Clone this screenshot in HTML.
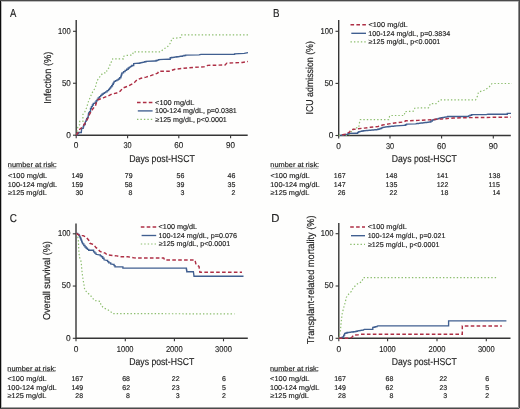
<!DOCTYPE html><html><head><meta charset="utf-8"><style>
html,body{margin:0;padding:0;background:#fefefd;}svg{display:block;}
text{font-family:"Liberation Sans", sans-serif;fill:#232323;stroke:#232323;stroke-width:0.16px;text-rendering:geometricPrecision;}
.t{filter:grayscale(1);} text.k{stroke-width:0.14px;}
</style></head><body>
<svg width="520" height="409" viewBox="0 0 520 409">
<rect x="0" y="0" width="520" height="409" fill="#fefefd"/>
<path d="M76.2,20 V135.2 H247.7" stroke="#363636" stroke-width="1.4" fill="none"/>
<path d="M73.0,135.2 H76.2" stroke="#363636" stroke-width="1.1"/>
<path d="M73.0,83.25 H76.2" stroke="#363636" stroke-width="1.1"/>
<path d="M73.0,31.3 H76.2" stroke="#363636" stroke-width="1.1"/>
<path d="M76.2,135.2 V138.2" stroke="#363636" stroke-width="1.1"/>
<path d="M127.6,135.2 V138.2" stroke="#363636" stroke-width="1.1"/>
<path d="M178.8,135.2 V138.2" stroke="#363636" stroke-width="1.1"/>
<path d="M230.6,135.2 V138.2" stroke="#363636" stroke-width="1.1"/>
<polyline points="76.30,135.00 77.50,129.70 77.80,126.50 79.70,124.60 79.70,121.40 82.90,121.40 82.90,114.40 84.50,112.50 86.60,107.70 88.40,101.60 91.50,94.20 93.30,90.60 95.20,88.10 97.00,80.80 98.80,78.30 100.80,75.40 103.00,73.00 106.50,72.70 106.90,70.00 108.80,68.00 109.60,66.20 110.40,63.00 112.30,60.80 112.70,58.80 123.50,58.80 123.80,56.20 126.90,55.40 132.50,55.00 133.40,51.80 160.60,51.80 163.50,49.00 167.30,47.10 170.20,43.30 172.10,38.50 180.80,37.50 181.70,34.80 248.00,34.80" stroke="#8cbe6e" stroke-width="1.2" stroke-dasharray="1.4 2.05" fill="none"/>
<polyline points="76.30,134.80 77.45,134.80 77.45,133.65 78.60,133.65 78.60,132.50 81.30,132.50 81.70,128.30 83.20,128.30 83.20,126.80 83.60,126.80 83.60,125.65 84.00,125.65 84.00,124.50 85.20,124.50 85.20,123.70 85.50,121.40 86.10,121.40 86.10,120.05 86.70,120.05 86.70,118.70 87.45,118.70 87.45,117.35 88.20,117.35 88.20,116.00 88.60,112.90 89.55,112.90 89.55,111.75 90.50,111.75 90.50,110.60 90.50,108.30 91.43,108.30 91.43,106.67 92.37,106.67 92.37,105.03 93.30,105.03 93.30,103.40 95.20,103.40 95.20,102.20 96.20,102.20 96.20,100.77 97.20,100.77 97.20,99.33 98.20,99.33 98.20,97.90 99.43,97.90 99.43,96.67 100.67,96.67 100.67,95.43 101.90,95.43 101.90,94.20 103.13,94.20 103.13,93.40 104.37,93.40 104.37,92.60 105.60,92.60 105.60,91.80 107.10,91.80 107.10,90.55 108.60,90.55 108.60,89.30 109.63,89.30 109.63,88.10 110.67,88.10 110.67,86.90 111.70,86.90 111.70,85.70 112.50,85.70 112.50,84.27 113.30,84.27 113.30,82.83 114.10,82.83 114.10,81.40 115.53,81.40 115.53,80.60 116.97,80.60 116.97,79.80 118.40,79.80 118.40,79.00 119.60,79.00 119.60,77.75 120.80,77.75 120.80,76.50 121.20,76.50 121.20,75.27 121.60,75.27 121.60,74.03 122.00,74.03 122.00,72.80 123.55,72.80 123.55,71.60 125.10,71.60 125.10,70.40 126.65,70.40 126.65,69.20 128.20,69.20 128.20,68.00 129.40,68.00 129.40,67.17 130.60,67.17 130.60,66.33 131.80,66.33 131.80,65.50 133.70,65.50 133.70,63.70 138.60,63.20 139.80,63.20 139.80,62.93 141.00,62.93 141.00,62.67 142.20,62.67 142.20,62.40 143.47,62.40 143.47,62.07 144.73,62.07 144.73,61.73 146.00,61.73 146.00,61.40 154.80,61.00 156.10,61.00 156.10,60.53 157.40,60.53 157.40,60.07 158.70,60.07 158.70,59.60 168.30,59.20 170.20,59.20 170.20,57.70 171.52,57.70 171.52,57.51 172.85,57.51 172.85,57.33 174.18,57.33 174.18,57.14 175.50,57.14 175.50,56.95 176.82,56.95 176.82,56.76 178.15,56.76 178.15,56.58 179.48,56.58 179.48,56.39 180.80,56.39 180.80,56.20 182.40,56.20 182.40,55.87 184.00,55.87 184.00,55.53 185.60,55.53 185.60,55.20 199.00,54.80 201.00,54.40 232.70,54.40 234.60,54.40 234.60,53.80 244.20,53.30 248.00,52.70" stroke="#405f90" stroke-width="1.35" fill="none"/>
<polyline points="76.30,135.00 78.00,132.50 80.00,129.00 82.50,127.00 84.50,124.00 86.00,121.50 88.00,118.00 89.50,114.50 91.50,110.50 93.50,108.00 95.20,106.50 97.00,100.80 98.20,99.70 103.10,97.90 108.00,96.00 111.70,94.20 116.60,93.00 120.20,91.20 122.70,88.10 127.60,86.30 132.50,83.80 134.90,82.00 137.30,79.60 141.00,78.30 146.00,77.10 150.00,76.00 157.70,73.10 158.70,71.20 169.20,71.20 175.00,69.20 183.70,68.30 194.20,67.30 203.80,66.90 207.70,65.40 225.00,65.00 226.90,63.10 242.30,62.50 248.00,61.50" stroke="#ae2f45" stroke-width="1.45" stroke-dasharray="3.6 2.3" fill="none"/>
<path d="M137,102.4 H152.6" stroke="#ae2f45" stroke-width="1.45" stroke-dasharray="3.6 2.3" fill="none"/>
<path d="M137.8,110.9 H152.6" stroke="#405f90" stroke-width="1.35" fill="none"/>
<path d="M137,119.4 H152.6" stroke="#8cbe6e" stroke-width="1.2" stroke-dasharray="1.4 2.05" fill="none"/>
<path d="M8.3,167.95 H56.2" stroke="#9a9a9a" stroke-width="0.9"/>
<path d="M338.7,20 V135.5 H510.8" stroke="#363636" stroke-width="1.4" fill="none"/>
<path d="M335.5,135.5 H338.7" stroke="#363636" stroke-width="1.1"/>
<path d="M335.5,83.4 H338.7" stroke="#363636" stroke-width="1.1"/>
<path d="M335.5,31.3 H338.7" stroke="#363636" stroke-width="1.1"/>
<path d="M338.7,135.5 V138.5" stroke="#363636" stroke-width="1.1"/>
<path d="M390.0,135.5 V138.5" stroke="#363636" stroke-width="1.1"/>
<path d="M441.6,135.5 V138.5" stroke="#363636" stroke-width="1.1"/>
<path d="M493.3,135.5 V138.5" stroke="#363636" stroke-width="1.1"/>
<polyline points="338.70,135.30 348.80,135.30 351.00,132.00 355.00,128.00 358.80,127.30 359.50,122.70 360.30,119.60 388.80,119.60 389.50,116.50 390.30,115.50 404.20,115.50 405.00,111.60 413.40,111.20 415.00,108.00 428.50,107.90 430.40,103.70 436.20,103.70 440.00,99.80 475.60,99.80 477.50,96.00 478.50,92.10 484.20,90.20 489.00,87.30 492.00,83.50 511.80,83.50" stroke="#8cbe6e" stroke-width="1.2" stroke-dasharray="1.4 2.05" fill="none"/>
<polyline points="340.50,135.30 342.60,135.00 347.20,134.40 348.00,134.40 348.00,133.40 356.50,133.20 357.65,133.20 357.65,132.40 358.80,132.40 358.80,131.60 360.33,131.60 360.33,131.30 361.87,131.30 361.87,131.00 363.40,131.00 363.40,130.70 364.86,130.70 364.86,130.58 366.31,130.58 366.31,130.46 367.77,130.46 367.77,130.33 369.22,130.33 369.22,130.21 370.68,130.21 370.68,130.09 372.13,130.09 372.13,129.97 373.59,129.97 373.59,129.84 375.04,129.84 375.04,129.72 376.50,129.72 376.50,129.60 377.77,129.60 377.77,129.23 379.03,129.23 379.03,128.87 380.30,128.87 380.30,128.50 381.45,128.50 381.45,127.90 382.60,127.90 382.60,127.30 384.15,127.30 384.15,127.10 385.70,127.10 385.70,126.90 387.25,126.90 387.25,126.70 388.80,126.70 388.80,126.50 390.34,126.50 390.34,126.36 391.88,126.36 391.88,126.22 393.42,126.22 393.42,126.08 394.96,126.08 394.96,125.94 396.50,125.94 396.50,125.80 404.20,125.30 405.35,125.30 405.35,124.75 406.50,124.75 406.50,124.20 415.70,123.90 417.00,123.50 418.38,123.50 418.38,123.33 419.76,123.33 419.76,123.17 421.13,123.17 421.13,123.00 422.51,123.00 422.51,122.83 423.89,122.83 423.89,122.67 425.27,122.67 425.27,122.50 426.64,122.50 426.64,122.33 428.02,122.33 428.02,122.17 429.40,122.17 429.40,122.00 430.85,122.00 430.85,121.00 432.30,121.00 432.30,120.00 433.84,120.00 433.84,119.60 435.38,119.60 435.38,119.20 436.92,119.20 436.92,118.80 438.46,118.80 438.46,118.40 440.00,118.40 440.00,118.00 441.54,118.00 441.54,117.70 443.08,117.70 443.08,117.40 444.62,117.40 444.62,117.10 446.16,117.10 446.16,116.80 447.70,116.80 447.70,116.50 467.00,116.50 468.57,116.50 468.57,115.87 470.13,115.87 470.13,115.23 471.70,115.23 471.70,114.60 486.20,114.60 488.00,114.20 505.40,114.20 507.30,114.20 507.30,113.30 511.00,113.30" stroke="#405f90" stroke-width="1.35" fill="none"/>
<polyline points="342.20,135.00 345.00,134.20 347.00,133.20 349.50,132.20 350.50,130.20 352.50,129.50 358.00,128.80 364.20,128.10 370.30,127.30 378.00,126.50 382.60,125.00 388.80,123.90 396.50,122.70 404.20,121.90 405.70,120.80 418.00,120.40 432.30,119.60 442.00,119.00 453.50,118.00 465.00,117.70 511.00,117.10" stroke="#ae2f45" stroke-width="1.45" stroke-dasharray="3.6 2.3" fill="none"/>
<path d="M350.5,24.8 H366" stroke="#ae2f45" stroke-width="1.45" stroke-dasharray="3.6 2.3" fill="none"/>
<path d="M351.3,33.3 H366" stroke="#405f90" stroke-width="1.35" fill="none"/>
<path d="M350.5,41.8 H366" stroke="#8cbe6e" stroke-width="1.2" stroke-dasharray="1.4 2.05" fill="none"/>
<path d="M270.8,168.15 H318.5" stroke="#9a9a9a" stroke-width="0.9"/>
<path d="M76.0,223.5 V338.3 H247.8" stroke="#363636" stroke-width="1.4" fill="none"/>
<path d="M72.8,338.3 H76.0" stroke="#363636" stroke-width="1.1"/>
<path d="M72.8,286.05 H76.0" stroke="#363636" stroke-width="1.1"/>
<path d="M72.8,233.8 H76.0" stroke="#363636" stroke-width="1.1"/>
<path d="M76.0,338.3 V341.3" stroke="#363636" stroke-width="1.1"/>
<path d="M125.3,338.3 V341.3" stroke="#363636" stroke-width="1.1"/>
<path d="M174.4,338.3 V341.3" stroke="#363636" stroke-width="1.1"/>
<path d="M223.5,338.3 V341.3" stroke="#363636" stroke-width="1.1"/>
<polyline points="76.40,233.50 77.70,236.60 78.30,240.20 78.60,245.10 78.90,252.40 79.50,257.30 80.70,259.80 81.30,263.50 81.80,269.60 82.70,277.30 83.70,283.10 84.70,289.80 87.50,292.70 91.40,296.50 94.30,300.40 100.00,301.30 101.00,305.20 103.90,308.10 107.70,309.60 110.60,311.50 112.50,313.60 234.50,313.90" stroke="#8cbe6e" stroke-width="1.2" stroke-dasharray="1.4 2.05" fill="none"/>
<polyline points="76.40,233.50 77.65,233.50 77.65,234.40 78.90,234.40 78.90,235.30 79.50,235.30 79.50,236.53 80.10,236.53 80.10,237.77 80.70,237.77 80.70,239.00 81.17,239.00 81.17,240.22 81.65,240.22 81.65,241.45 82.12,241.45 82.12,242.68 82.60,242.68 82.60,243.90 83.80,243.90 83.80,245.45 85.00,245.45 85.00,247.00 86.20,247.00 86.20,248.20 87.40,248.20 87.40,249.40 88.70,249.40 88.70,250.20 91.70,250.20 93.60,250.20 93.60,251.80 94.80,251.80 94.80,253.05 96.00,253.05 96.00,254.30 99.10,254.90 100.30,254.90 100.30,255.80 101.50,255.80 101.50,256.70 102.75,256.70 102.75,258.25 104.00,258.25 104.00,259.80 106.40,260.40 107.60,260.40 107.60,261.60 108.80,261.60 108.80,262.80 110.70,262.80 110.70,264.00 113.10,264.40 114.05,264.40 114.05,265.65 115.00,265.65 115.00,266.90 121.70,266.90 122.90,266.90 122.90,268.10 186.20,268.10 186.40,268.10 186.40,269.30 186.60,269.30 186.60,270.50 186.80,270.50 186.80,271.70 193.40,271.70 194.00,276.20 243.50,276.20" stroke="#405f90" stroke-width="1.35" fill="none"/>
<polyline points="76.40,233.50 80.10,235.60 83.20,235.60 86.20,237.20 88.70,240.20 89.90,243.30 93.60,244.50 96.00,247.60 97.80,248.80 99.70,251.20 102.10,252.40 105.20,253.10 107.00,254.90 116.80,255.90 120.50,256.70 127.80,256.70 133.90,257.90 163.70,258.00 164.70,260.00 195.00,260.00 196.00,264.50 199.00,266.40 199.90,272.30 242.00,272.30" stroke="#ae2f45" stroke-width="1.45" stroke-dasharray="3.6 2.3" fill="none"/>
<path d="M140.8,227.0 H156.2" stroke="#ae2f45" stroke-width="1.45" stroke-dasharray="3.6 2.3" fill="none"/>
<path d="M141.60000000000002,235.5 H156.2" stroke="#405f90" stroke-width="1.35" fill="none"/>
<path d="M140.8,244.0 H156.2" stroke="#8cbe6e" stroke-width="1.2" stroke-dasharray="1.4 2.05" fill="none"/>
<path d="M7.8,371.55 H55.5" stroke="#9a9a9a" stroke-width="0.9"/>
<path d="M338.8,223 V338.3 H510.5" stroke="#363636" stroke-width="1.4" fill="none"/>
<path d="M335.6,338.3 H338.8" stroke="#363636" stroke-width="1.1"/>
<path d="M335.6,286.0 H338.8" stroke="#363636" stroke-width="1.1"/>
<path d="M335.6,233.7 H338.8" stroke="#363636" stroke-width="1.1"/>
<path d="M338.8,338.3 V341.3" stroke="#363636" stroke-width="1.1"/>
<path d="M387.6,338.3 V341.3" stroke="#363636" stroke-width="1.1"/>
<path d="M437.0,338.3 V341.3" stroke="#363636" stroke-width="1.1"/>
<path d="M486.3,338.3 V341.3" stroke="#363636" stroke-width="1.1"/>
<polyline points="338.80,338.30 340.30,331.60 341.10,323.10 342.00,314.50 343.70,307.70 345.40,301.70 346.30,297.40 348.80,294.00 351.40,291.40 353.10,288.00 356.50,284.60 359.10,282.80 361.70,282.00 363.40,277.60 497.60,277.60" stroke="#8cbe6e" stroke-width="1.2" stroke-dasharray="1.4 2.05" fill="none"/>
<polyline points="338.80,338.30 340.13,338.30 340.13,337.80 341.47,337.80 341.47,337.30 342.80,337.30 342.80,336.80 343.70,336.80 343.70,335.10 344.60,335.10 344.60,333.40 345.85,333.40 345.85,332.95 347.10,332.95 347.10,332.50 348.64,332.50 348.64,332.32 350.18,332.32 350.18,332.14 351.72,332.14 351.72,331.96 353.26,331.96 353.26,331.78 354.80,331.78 354.80,331.60 356.10,331.60 356.10,331.20 357.40,331.20 357.40,330.80 358.90,330.80 358.90,330.57 360.40,330.57 360.40,330.35 361.90,330.35 361.90,330.12 363.40,330.12 363.40,329.90 364.30,329.40 371.10,329.40 372.80,329.40 372.80,327.40 374.23,327.40 374.23,327.00 375.67,327.00 375.67,326.60 377.10,326.60 377.10,326.20 378.00,325.80 448.60,325.80 448.60,320.80 506.40,320.80" stroke="#405f90" stroke-width="1.35" fill="none"/>
<polyline points="338.80,338.30 350.60,338.30 352.30,336.80 354.00,335.00 358.30,334.70 361.70,334.20 462.30,334.20 462.30,325.90 501.80,325.90" stroke="#ae2f45" stroke-width="1.45" stroke-dasharray="3.6 2.3" fill="none"/>
<path d="M350.2,227.0 H365" stroke="#ae2f45" stroke-width="1.45" stroke-dasharray="3.6 2.3" fill="none"/>
<path d="M351.0,235.7 H365" stroke="#405f90" stroke-width="1.35" fill="none"/>
<path d="M350.2,244.3 H365" stroke="#8cbe6e" stroke-width="1.2" stroke-dasharray="1.4 2.05" fill="none"/>
<path d="M270.5,371.55 H318.2" stroke="#9a9a9a" stroke-width="0.9"/>
<g class="t">
<text x="9.88" y="17.10" font-size="11.5" textLength="6.34" lengthAdjust="spacingAndGlyphs">A</text>
<text class="k" x="66.17" y="138.10" font-size="8.5" textLength="4.65" lengthAdjust="spacingAndGlyphs">0</text>
<text class="k" x="61.88" y="86.15" font-size="8.5" textLength="8.94" lengthAdjust="spacingAndGlyphs">50</text>
<text class="k" x="58.12" y="34.20" font-size="8.5" textLength="12.68" lengthAdjust="spacingAndGlyphs">100</text>
<text class="k" x="73.87" y="148.30" font-size="8.5" textLength="4.65" lengthAdjust="spacingAndGlyphs">0</text>
<text class="k" x="123.52" y="148.30" font-size="8.5" textLength="8.17" lengthAdjust="spacingAndGlyphs">30</text>
<text class="k" x="174.24" y="148.30" font-size="8.5" textLength="9.03" lengthAdjust="spacingAndGlyphs">60</text>
<text class="k" x="226.07" y="148.30" font-size="8.5" textLength="8.99" lengthAdjust="spacingAndGlyphs">90</text>
<text x="129.28" y="161.80" font-size="10.0" textLength="65.52" lengthAdjust="spacingAndGlyphs">Days post-HSCT</text>
<text transform="translate(50.60,102.90) rotate(-90)" x="-0.86" y="0" font-size="10.0" textLength="52.24" lengthAdjust="spacingAndGlyphs">Infection (%)</text>
<text x="155.14" y="104.70" font-size="7.0" textLength="39.11" lengthAdjust="spacingAndGlyphs">&lt;100 mg/dL</text>
<text x="154.96" y="113.20" font-size="7.0" textLength="81.89" lengthAdjust="spacingAndGlyphs">100-124 mg/dL, p=0.0381</text>
<text x="155.27" y="121.70" font-size="7.0" textLength="71.57" lengthAdjust="spacingAndGlyphs">≥125 mg/dL, p&lt;0.0001</text>
<text x="7.81" y="167.20" font-size="7.0" textLength="49.07" lengthAdjust="spacingAndGlyphs">number at risk:</text>
<text x="7.93" y="178.20" font-size="7.0" textLength="39.31" lengthAdjust="spacingAndGlyphs">&lt;100 mg/dL</text>
<text x="71.55" y="178.20" font-size="7.0">149</text>
<text x="124.75" y="178.20" font-size="7.0">79</text>
<text x="176.52" y="178.20" font-size="7.0">56</text>
<text x="227.62" y="178.20" font-size="7.0">46</text>
<text x="7.74" y="186.90" font-size="7.0" textLength="49.30" lengthAdjust="spacingAndGlyphs">100-124 mg/dL</text>
<text x="71.55" y="186.90" font-size="7.0">159</text>
<text x="124.72" y="186.90" font-size="7.0">58</text>
<text x="176.55" y="186.90" font-size="7.0">39</text>
<text x="227.61" y="186.90" font-size="7.0">35</text>
<text x="8.07" y="195.20" font-size="7.0" textLength="38.68" lengthAdjust="spacingAndGlyphs">≥125 mg/dL</text>
<text x="75.39" y="195.20" font-size="7.0">30</text>
<text x="128.61" y="195.20" font-size="7.0">8</text>
<text x="180.41" y="195.20" font-size="7.0">3</text>
<text x="231.56" y="195.20" font-size="7.0">2</text>
<text x="273.00" y="17.20" font-size="11.5" textLength="6.52" lengthAdjust="spacingAndGlyphs">B</text>
<text class="k" x="328.67" y="138.40" font-size="8.5" textLength="4.65" lengthAdjust="spacingAndGlyphs">0</text>
<text class="k" x="324.38" y="86.30" font-size="8.5" textLength="8.94" lengthAdjust="spacingAndGlyphs">50</text>
<text class="k" x="320.62" y="34.20" font-size="8.5" textLength="12.68" lengthAdjust="spacingAndGlyphs">100</text>
<text class="k" x="336.37" y="148.60" font-size="8.5" textLength="4.65" lengthAdjust="spacingAndGlyphs">0</text>
<text class="k" x="385.92" y="148.60" font-size="8.5" textLength="8.17" lengthAdjust="spacingAndGlyphs">30</text>
<text class="k" x="437.04" y="148.60" font-size="8.5" textLength="9.03" lengthAdjust="spacingAndGlyphs">60</text>
<text class="k" x="488.77" y="148.60" font-size="8.5" textLength="8.99" lengthAdjust="spacingAndGlyphs">90</text>
<text x="391.79" y="162.10" font-size="10.0" textLength="64.91" lengthAdjust="spacingAndGlyphs">Days post-HSCT</text>
<text transform="translate(313.30,113.70) rotate(-90)" x="-0.81" y="0" font-size="10.0" textLength="73.36" lengthAdjust="spacingAndGlyphs">ICU admission (%)</text>
<text x="368.43" y="27.10" font-size="7.0" textLength="39.31" lengthAdjust="spacingAndGlyphs">&lt;100 mg/dL</text>
<text x="368.26" y="35.60" font-size="7.0" textLength="81.95" lengthAdjust="spacingAndGlyphs">100-124 mg/dL, p=0.3834</text>
<text x="368.57" y="44.10" font-size="7.0" textLength="71.78" lengthAdjust="spacingAndGlyphs">≥125 mg/dL, p&lt;0.0001</text>
<text x="270.31" y="167.40" font-size="7.0" textLength="48.87" lengthAdjust="spacingAndGlyphs">number at risk:</text>
<text x="270.43" y="178.20" font-size="7.0" textLength="39.31" lengthAdjust="spacingAndGlyphs">&lt;100 mg/dL</text>
<text x="333.87" y="178.20" font-size="7.0">167</text>
<text x="385.62" y="178.20" font-size="7.0">148</text>
<text x="436.66" y="178.20" font-size="7.0">141</text>
<text x="488.62" y="178.20" font-size="7.0">138</text>
<text x="270.24" y="186.90" font-size="7.0" textLength="49.30" lengthAdjust="spacingAndGlyphs">100-124 mg/dL</text>
<text x="333.87" y="186.90" font-size="7.0">147</text>
<text x="385.61" y="186.90" font-size="7.0">135</text>
<text x="436.67" y="186.90" font-size="7.0">122</text>
<text x="488.61" y="186.90" font-size="7.0">115</text>
<text x="270.57" y="195.20" font-size="7.0" textLength="38.68" lengthAdjust="spacingAndGlyphs">≥125 mg/dL</text>
<text x="337.72" y="195.20" font-size="7.0">26</text>
<text x="389.57" y="195.20" font-size="7.0">22</text>
<text x="440.52" y="195.20" font-size="7.0">18</text>
<text x="492.42" y="195.20" font-size="7.0">14</text>
<text x="9.79" y="222.20" font-size="11.5" textLength="7.18" lengthAdjust="spacingAndGlyphs">C</text>
<text class="k" x="65.97" y="340.70" font-size="8.5" textLength="4.65" lengthAdjust="spacingAndGlyphs">0</text>
<text class="k" x="61.68" y="288.45" font-size="8.5" textLength="8.94" lengthAdjust="spacingAndGlyphs">50</text>
<text class="k" x="57.92" y="236.20" font-size="8.5" textLength="12.68" lengthAdjust="spacingAndGlyphs">100</text>
<text class="k" x="73.67" y="352.00" font-size="8.5" textLength="4.65" lengthAdjust="spacingAndGlyphs">0</text>
<text class="k" x="116.83" y="352.00" font-size="8.5" textLength="16.66" lengthAdjust="spacingAndGlyphs">1000</text>
<text class="k" x="165.92" y="352.00" font-size="8.5" textLength="16.88" lengthAdjust="spacingAndGlyphs">2000</text>
<text class="k" x="215.11" y="352.00" font-size="8.5" textLength="16.78" lengthAdjust="spacingAndGlyphs">3000</text>
<text x="129.29" y="365.30" font-size="10.0" textLength="64.91" lengthAdjust="spacingAndGlyphs">Days post-HSCT</text>
<text transform="translate(50.00,319.60) rotate(-90)" x="-0.43" y="0" font-size="10.0" textLength="78.90" lengthAdjust="spacingAndGlyphs">Overall survival (%)</text>
<text x="158.64" y="229.30" font-size="7.0" textLength="38.50" lengthAdjust="spacingAndGlyphs">&lt;100 mg/dL</text>
<text x="158.45" y="237.80" font-size="7.0" textLength="78.56" lengthAdjust="spacingAndGlyphs">100-124 mg/dL, p=0.076</text>
<text x="158.77" y="246.30" font-size="7.0" textLength="71.37" lengthAdjust="spacingAndGlyphs">≥125 mg/dL, p&lt;0.0001</text>
<text x="7.31" y="370.80" font-size="7.0" textLength="48.87" lengthAdjust="spacingAndGlyphs">number at risk:</text>
<text x="7.43" y="381.00" font-size="7.0" textLength="39.31" lengthAdjust="spacingAndGlyphs">&lt;100 mg/dL</text>
<text x="71.47" y="381.00" font-size="7.0">167</text>
<text x="122.22" y="381.00" font-size="7.0">68</text>
<text x="171.87" y="381.00" font-size="7.0">22</text>
<text x="221.91" y="381.00" font-size="7.0">6</text>
<text x="7.24" y="389.60" font-size="7.0" textLength="49.30" lengthAdjust="spacingAndGlyphs">100-124 mg/dL</text>
<text x="71.45" y="389.60" font-size="7.0">149</text>
<text x="122.27" y="389.60" font-size="7.0">62</text>
<text x="171.82" y="389.60" font-size="7.0">23</text>
<text x="221.90" y="389.60" font-size="7.0">5</text>
<text x="7.57" y="398.20" font-size="7.0" textLength="38.68" lengthAdjust="spacingAndGlyphs">≥125 mg/dL</text>
<text x="75.32" y="398.20" font-size="7.0">28</text>
<text x="126.11" y="398.20" font-size="7.0">8</text>
<text x="175.71" y="398.20" font-size="7.0">3</text>
<text x="221.96" y="398.20" font-size="7.0">2</text>
<text x="271.17" y="222.20" font-size="11.5" textLength="8.17" lengthAdjust="spacingAndGlyphs">D</text>
<text class="k" x="328.77" y="340.70" font-size="8.5" textLength="4.65" lengthAdjust="spacingAndGlyphs">0</text>
<text class="k" x="324.48" y="288.40" font-size="8.5" textLength="8.94" lengthAdjust="spacingAndGlyphs">50</text>
<text class="k" x="320.72" y="236.10" font-size="8.5" textLength="12.68" lengthAdjust="spacingAndGlyphs">100</text>
<text class="k" x="336.47" y="352.00" font-size="8.5" textLength="4.65" lengthAdjust="spacingAndGlyphs">0</text>
<text class="k" x="379.13" y="352.00" font-size="8.5" textLength="16.66" lengthAdjust="spacingAndGlyphs">1000</text>
<text class="k" x="428.52" y="352.00" font-size="8.5" textLength="16.88" lengthAdjust="spacingAndGlyphs">2000</text>
<text class="k" x="477.91" y="352.00" font-size="8.5" textLength="16.78" lengthAdjust="spacingAndGlyphs">3000</text>
<text x="391.79" y="365.30" font-size="10.0" textLength="64.91" lengthAdjust="spacingAndGlyphs">Days post-HSCT</text>
<text transform="translate(314.00,344.00) rotate(-90)" x="-0.21" y="0" font-size="10.0" textLength="128.78" lengthAdjust="spacingAndGlyphs">Transplant-related mortality (%)</text>
<text x="367.84" y="229.30" font-size="7.0" textLength="38.90" lengthAdjust="spacingAndGlyphs">&lt;100 mg/dL</text>
<text x="367.66" y="238.00" font-size="7.0" textLength="77.69" lengthAdjust="spacingAndGlyphs">100-124 mg/dL, p=0.021</text>
<text x="367.97" y="246.60" font-size="7.0" textLength="71.37" lengthAdjust="spacingAndGlyphs">≥125 mg/dL, p&lt;0.0001</text>
<text x="270.01" y="370.80" font-size="7.0" textLength="48.87" lengthAdjust="spacingAndGlyphs">number at risk:</text>
<text x="270.13" y="381.00" font-size="7.0" textLength="39.31" lengthAdjust="spacingAndGlyphs">&lt;100 mg/dL</text>
<text x="334.17" y="381.00" font-size="7.0">167</text>
<text x="385.52" y="381.00" font-size="7.0">68</text>
<text x="439.47" y="381.00" font-size="7.0">22</text>
<text x="485.21" y="381.00" font-size="7.0">6</text>
<text x="269.94" y="389.60" font-size="7.0" textLength="49.30" lengthAdjust="spacingAndGlyphs">100-124 mg/dL</text>
<text x="334.15" y="389.60" font-size="7.0">149</text>
<text x="385.57" y="389.60" font-size="7.0">62</text>
<text x="439.42" y="389.60" font-size="7.0">23</text>
<text x="485.20" y="389.60" font-size="7.0">5</text>
<text x="270.27" y="398.20" font-size="7.0" textLength="38.68" lengthAdjust="spacingAndGlyphs">≥125 mg/dL</text>
<text x="338.02" y="398.20" font-size="7.0">28</text>
<text x="389.41" y="398.20" font-size="7.0">8</text>
<text x="443.31" y="398.20" font-size="7.0">3</text>
<text x="485.26" y="398.20" font-size="7.0">2</text>
</g>
<g shape-rendering="crispEdges">
<rect x="0" y="0" width="520" height="1" fill="#4a4a4a"/>
<rect x="1" y="1" width="517" height="1" fill="#bcbcbc"/>
<rect x="0" y="1" width="1" height="408" fill="#0c0c0c"/>
<rect x="1" y="2" width="1" height="405" fill="#bcbcbc"/>
<rect x="518" y="1" width="1" height="406" fill="#8c8c8c"/>
<rect x="519" y="0" width="1" height="408" fill="#4a4a4a"/>
<rect x="519" y="408" width="1" height="1" fill="#a8a8a8"/>
<rect x="1" y="407" width="518" height="1" fill="#a0a0a0"/>
<rect x="0" y="408" width="519" height="1" fill="#4a4a4a"/>
</g>
</svg></body></html>
